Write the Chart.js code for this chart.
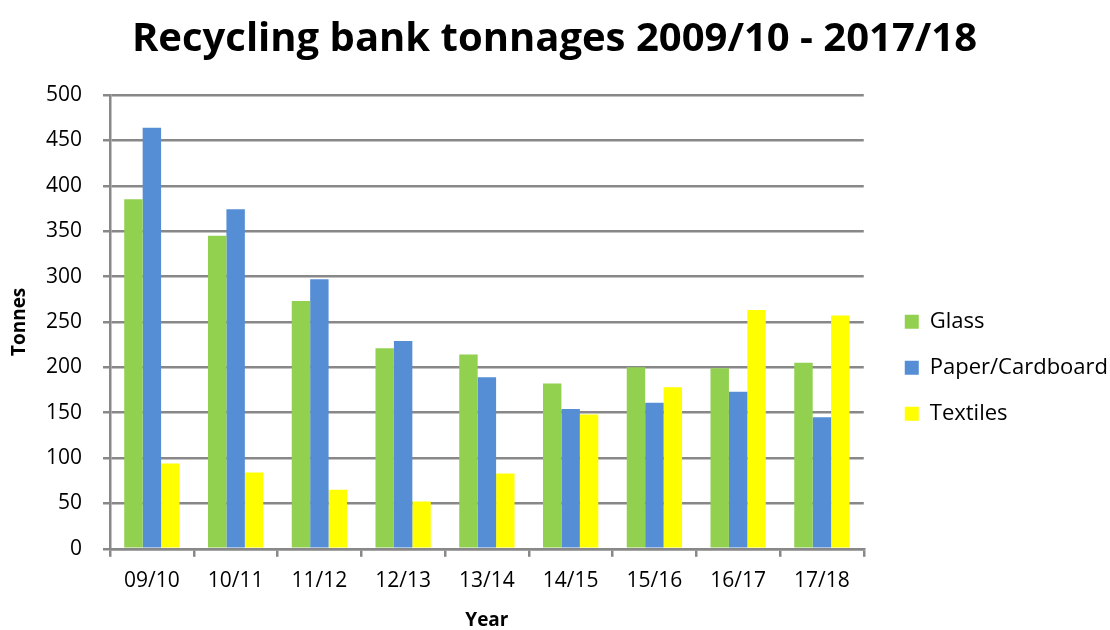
<html>
<head>
    <meta charset="UTF-8">
    <script src="https://cdn.jsdelivr.net/npm/chart.js"></script>
    <title>Recycling bank tonnages</title>
    <style>
        body { margin: 0; background: #fff; }
    </style>
</head>
<body>
    <div style="width: 1110px; height: 630px;"><canvas id="tonnages" width="1110" height="630"></canvas></div>
    <script>
        const years = ['09/10', '10/11', '11/12', '12/13', '13/14', '14/15', '15/16', '16/17', '17/18'];
        const glass = [385, 345, 273, 221, 214, 182, 200, 199, 205];
        const paper = [464, 374, 297, 229, 189, 154, 161, 173, 145];
        const textiles = [94, 84, 65, 52, 83, 148, 178, 263, 257];
        const yTicks = [0, 50, 100, 150, 200, 250, 300, 350, 400, 450, 500];

        const fontFamily = "'Open Sans', 'Noto Sans', sans-serif";
        const gridGrey = '#888888';

        // push the legend a little away from the plot
        const legendNudge = {
            id: 'legendNudge',
            afterLayout(chart) {
                chart.legend.left += 17;
                chart.legend.right += 17;
            }
        };

        const data = {
            labels: years,
            datasets: [
                { label: 'Glass', data: glass, backgroundColor: '#92d050' },
                { label: 'Paper/Cardboard', data: paper, backgroundColor: '#558ed5' },
                { label: 'Textiles', data: textiles, backgroundColor: '#ffff00' }
            ]
        };

        const config = {
            type: 'bar',
            data: data,
            plugins: [legendNudge],
            options: {
                responsive: false,
                animation: false,
                layout: { padding: { left: 8, right: 9, top: 16, bottom: 0 } },
                datasets: {
                    bar: { categoryPercentage: 0.66, barPercentage: 1.0 }
                },
                plugins: {
                    title: {
                        display: true,
                        text: 'Recycling bank tonnages 2009/10 - 2017/18',
                        color: '#000',
                        font: { family: fontFamily, size: 40, weight: 'bold' },
                        padding: { top: 0, bottom: 31 }
                    },
                    legend: {
                        position: 'right',
                        // empty legend title only pushes the items down a bit
                        title: { display: true, text: '', font: { size: 12 }, padding: { top: 75, bottom: 0 } },
                        labels: {
                            color: '#000',
                            font: { family: fontFamily, size: 22 },
                            boxWidth: 14,
                            boxHeight: 14,
                            padding: 24
                        }
                    },
                    tooltip: { enabled: false }
                },
                scales: {
                    x: {
                        border: { color: gridGrey, width: 2.5 },
                        grid: { drawOnChartArea: false, drawTicks: true, tickLength: 8, color: gridGrey, lineWidth: 2.5 },
                        ticks: { color: '#000', font: { family: fontFamily, size: 21 }, padding: 12 },
                        title: {
                            display: true, text: 'Year', color: '#000',
                            font: { family: fontFamily, size: 19, weight: 'bold', lineHeight: 1 },
                            padding: { top: 5, bottom: 0 }
                        }
                    },
                    y: {
                        min: 0,
                        max: 500,
                        afterBuildTicks: (axis) => { axis.ticks = yTicks.map(v => ({ value: v })); },
                        afterFit: (axis) => { axis.width = 102; },
                        border: { color: gridGrey, width: 2.5 },
                        grid: { color: gridGrey, lineWidth: 2.5, tickLength: 7 },
                        ticks: { color: '#000', font: { family: fontFamily, size: 21 }, padding: 21 },
                        title: {
                            display: true, text: 'Tonnes', color: '#000',
                            font: { family: fontFamily, size: 19, weight: 'bold' },
                            padding: { top: 0, bottom: 0 }
                        }
                    }
                }
            }
        };

        const myChart = new Chart(document.getElementById('tonnages'), config);
    </script>
</body>
</html>
